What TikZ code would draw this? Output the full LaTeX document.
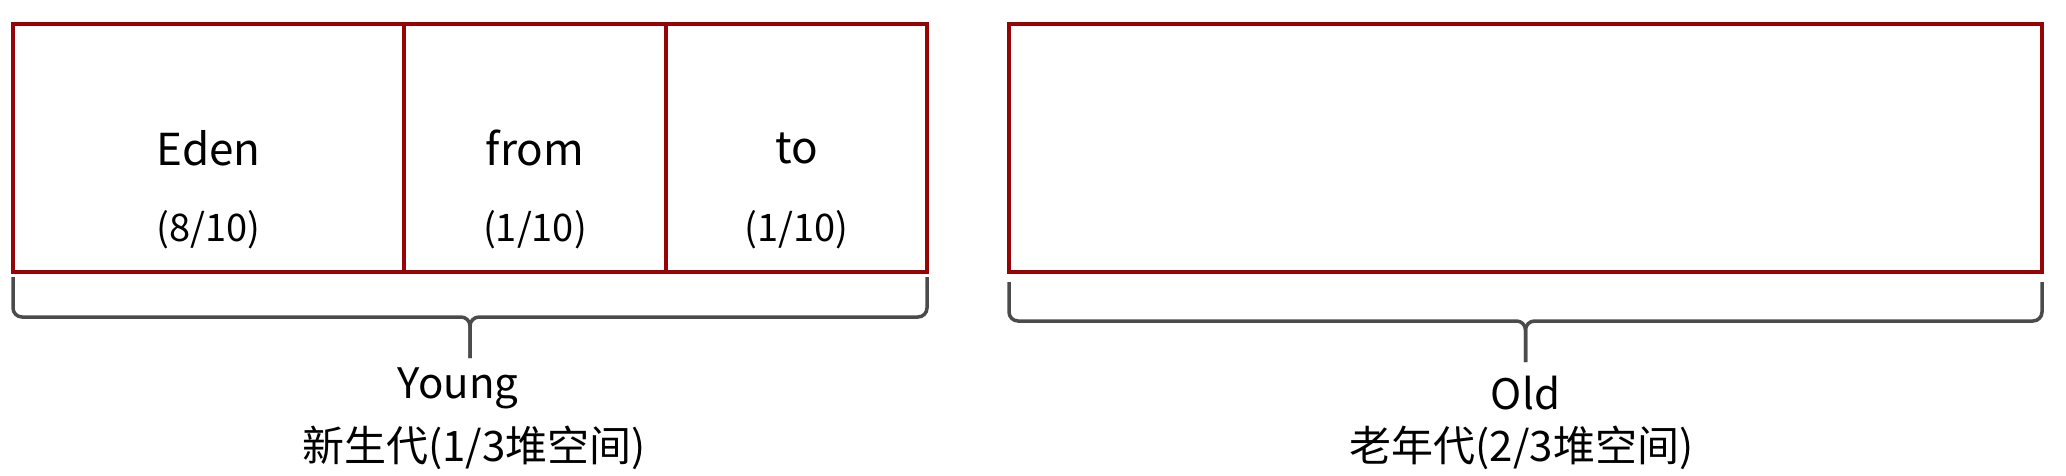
\documentclass[tikz,border=0pt]{standalone}
\usepackage{fontspec}
\setmainfont{Noto Sans CJK SC}
\usepackage{xcolor}
\usetikzlibrary{positioning, calc}

\definecolor{boxred}{RGB}{150,5,5}
\definecolor{bracegray}{RGB}{75,75,75}

\begin{document}
\begin{tikzpicture}[
    x=1pt, y=-1pt,
    node distance=0pt,
    area/.style={draw=boxred, line width=3.5pt, minimum height=248pt, outer sep=0pt, inner sep=0pt, font=\fontsize{44}{52}\selectfont},
    ratio/.style={font=\fontsize{38}{46}\selectfont},
    gen/.style={font=\fontsize{42}{50}\selectfont},
    gencn/.style={font=\fontsize{42}{50}\selectfont},
    brc/.style={draw=bracegray, line width=3.5pt, rounded corners=9pt}
]
\useasboundingbox (0,0) rectangle (2066,475);

% heap areas
\node[area, minimum width=391pt] (eden) at (208.5,148) {Eden};
\node[area, minimum width=262pt, right=of eden] (from) {from};
\node[area, minimum width=261pt, right=of from] (to) {to};
\node[area, minimum width=1033pt, right=82pt of to] (old) {};

\node[ratio] (edenr) at ([yshift=-82pt]eden.center) {(8/10)};
\node[ratio] (fromr) at ([yshift=-82pt]from.center) {(1/10)};
\node[ratio] (tor) at ([yshift=-82pt]to.center) {(1/10)};

% braces
\coordinate (ytip) at ($(eden.south west)!0.5!(to.south east) + (0,86)$);
\coordinate (otip) at ($(old.south) + (0,90)$);

\draw[brc] ([yshift=-5pt]eden.south west) |- ([yshift=41pt]ytip) -- (ytip);
\draw[brc] ([yshift=-5pt]to.south east) |- ([yshift=41pt]ytip) -- (ytip);
\draw[brc] ([yshift=-10pt]old.south west) |- ([yshift=41pt]otip) -- (otip);
\draw[brc] ([yshift=-10pt]old.south east) |- ([yshift=41pt]otip) -- (otip);

% generation labels
\node[gen] (young) at ([xshift=-12pt, yshift=-30pt]ytip) {Young};
\node[gencn] (youngcn) at ([xshift=4pt, yshift=-90pt]ytip) {新生代(1/3堆空间)};
\node[gen] (oldlbl) at ([yshift=-31pt]otip) {Old};
\node[gencn] (oldcn) at ([xshift=-4pt, yshift=-86pt]otip) {老年代(2/3堆空间)};
\end{tikzpicture}
\end{document}
